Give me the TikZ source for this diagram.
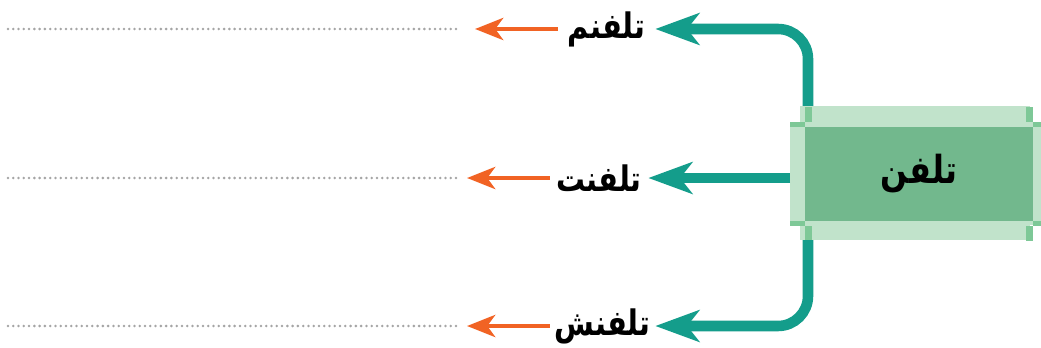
\documentclass[tikz,border=0pt]{standalone}
\usepackage{fontspec}
\usepackage{xcolor}
\usetikzlibrary{arrows.meta, positioning, calc}
\TeXXeTstate=1
\newfontfamily\arabicfont[Script=Arabic, FakeStretch=0.82]{DejaVu Sans}
\definecolor{LinkTeal}{RGB}{20,157,139}
\definecolor{PointerOrange}{RGB}{241,99,36}
\definecolor{BoxGreen}{RGB}{114,184,141}
\definecolor{FrameGreen}{RGB}{193,227,203}
\definecolor{MarkGreen}{RGB}{126,200,151}
\definecolor{DotGray}{RGB}{165,165,165}

\begin{document}
\begin{tikzpicture}[x=0.02cm, y=-0.02cm,
    wordbox/.style={inner sep=0pt, minimum height=0.8cm,
      font=\arabicfont\bfseries\fontsize{20}{24}\selectfont},
    phonebox/.style={fill=BoxGreen, minimum width=4.56cm, minimum height=1.88cm,
      inner sep=0pt, font=\arabicfont\bfseries\fontsize{22}{26}\selectfont},
    teallink/.style={LinkTeal, line width=6pt, rounded corners=0.6cm,
      -{Stealth[length=25pt,width=18pt,inset=7pt]}},
    orangelink/.style={PointerOrange, line width=2.8pt,
      -{Stealth[length=16pt,width=12.5pt,inset=4.5pt]}},
    dotline/.style={DotGray, line width=1.6pt, line cap=round, dash pattern=on 0pt off 3pt}
  ]
  \useasboundingbox (0,0) rectangle (1041,348);
  % light frame round the box
  \fill[FrameGreen] (800,106) rectangle (1030,240);
  \fill[FrameGreen] (790,122) rectangle (1041,225);
  \foreach \cx/\cy/\sx/\sy in {805/127/-1/-1, 1033/127/1/-1, 805/221/-1/1, 1033/221/1/1}{
    \fill[MarkGreen] (\cx,{\cy+5*\sy}) rectangle ({\cx-7*\sx},{\cy+20*\sy});
    \fill[MarkGreen] (\cx,\cy) rectangle ({\cx+15*\sx},{\cy+5*\sy});
  }
  \node[phonebox] (phone) at (919,174) {\beginR تلفن\endR};
  % words
  \node[wordbox, minimum width=1.94cm] (tm) at (606.5,29) {\beginR تلفنم\endR};
  \node[wordbox, minimum width=1.96cm] (tt) at (599,178) {\beginR تلفنت\endR};
  \node[wordbox, minimum width=2.1cm] (ts) at (602.5,326) {\beginR تلفنش\endR};
  \coordinate (upOut) at (808,106);
  \coordinate (midOut) at (790,178);
  \coordinate (lowOut) at (808,240);
  \draw[teallink] (upOut) |- (tm.east);
  \draw[teallink] (midOut) -- (tt.east);
  \draw[teallink] (lowOut) |- (ts.east);
  % pointers and blank lines
  \foreach \w/\x/\y in {tm/475/29, tt/467/178, ts/467/326}{
    \coordinate (\w tip) at (\x,\y);
    \draw[orangelink] (\w.west) -- (\w tip);
    \coordinate (\w a) at (8,\y);
    \coordinate (\w b) at (458,\y);
    \draw[dotline] (\w a) -- (\w b);
  }
\end{tikzpicture}
\end{document}
